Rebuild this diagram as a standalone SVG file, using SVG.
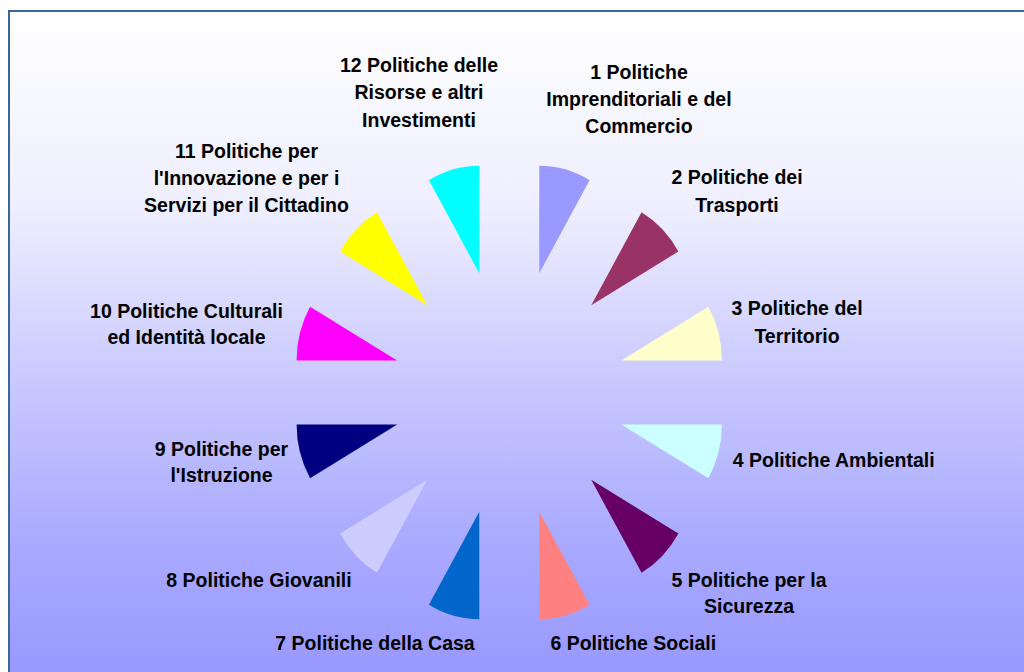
<svg xmlns="http://www.w3.org/2000/svg" width="1024" height="672" viewBox="0 0 1024 672">
<defs>
<linearGradient id="bg" x1="0" y1="11" x2="0" y2="672" gradientUnits="userSpaceOnUse">
<stop offset="0" stop-color="#FFFFFF"/>
<stop offset="0.3" stop-color="#EEEEFF"/>
<stop offset="0.55" stop-color="#CACAFF"/>
<stop offset="0.8" stop-color="#AAAAFF"/>
<stop offset="1" stop-color="#9999FF"/>
</linearGradient>
<style>
.lbl{font-family:"Liberation Sans",Arial,sans-serif;font-weight:bold;font-size:19.5px;fill:#000;text-anchor:middle}
</style>
</defs>
<rect x="0" y="0" width="1024" height="672" fill="#FFFFFF"/>
<rect x="9" y="11" width="1040" height="700" fill="url(#bg)" stroke="#3B6698" stroke-width="2"/>
<g id="slices">
<g id="s1"><path d="M539.27,273.21 L539.27,165.81 A100.6,107.4 0 0 1 589.57,180.2 Z" fill="#9999FF"/></g>
<g id="s2"><path d="M591.27,305.17 L641.57,212.16 A100.6,107.4 0 0 1 678.39,251.47 Z" fill="#993366"/></g>
<g id="s3"><path d="M621.3,360.54 L708.42,306.84 A100.6,107.4 0 0 1 721.9,360.54 Z" fill="#FFFFCC"/></g>
<g id="s4"><path d="M621.3,424.46 L721.9,424.46 A100.6,107.4 0 0 1 708.42,478.16 Z" fill="#CCFFFF"/></g>
<g id="s5"><path d="M591.27,479.83 L678.39,533.53 A100.6,107.4 0 0 1 641.57,572.84 Z" fill="#660066"/></g>
<g id="s6"><path d="M539.27,511.79 L589.57,604.8 A100.6,107.4 0 0 1 539.27,619.19 Z" fill="#FF8080"/></g>
<g id="s7"><path d="M479.23,511.79 L479.23,619.19 A100.6,107.4 0 0 1 428.93,604.8 Z" fill="#0066CC"/></g>
<g id="s8"><path d="M427.23,479.83 L376.93,572.84 A100.6,107.4 0 0 1 340.11,533.53 Z" fill="#CCCCFF"/></g>
<g id="s9"><path d="M397.2,424.46 L310.08,478.16 A100.6,107.4 0 0 1 296.6,424.46 Z" fill="#000080"/></g>
<g id="s10"><path d="M397.2,360.54 L296.6,360.54 A100.6,107.4 0 0 1 310.08,306.84 Z" fill="#FF00FF"/></g>
<g id="s11"><path d="M427.23,305.17 L340.11,251.47 A100.6,107.4 0 0 1 376.93,212.16 Z" fill="#FFFF00"/></g>
<g id="s12"><path d="M479.23,273.21 L428.93,180.2 A100.6,107.4 0 0 1 479.23,165.81 Z" fill="#00FFFF"/></g>
</g>
<g id="connectors"></g>
<g id="labels">
<g id="l1"><text class="lbl" x="639" y="78.5">1 Politiche</text><text class="lbl" x="639" y="105.8">Imprenditoriali e del</text><text class="lbl" x="639" y="132.5">Commercio</text></g>
<g id="l2"><text class="lbl" x="737" y="184">2 Politiche dei</text><text class="lbl" x="737" y="211.5">Trasporti</text></g>
<g id="l3"><text class="lbl" x="797" y="315">3 Politiche del</text><text class="lbl" x="797" y="342.5">Territorio</text></g>
<g id="l4"><text class="lbl" x="833.7" y="466.7">4 Politiche Ambientali</text></g>
<g id="l5"><text class="lbl" x="749" y="586.6">5 Politiche per la</text><text class="lbl" x="749" y="613.3">Sicurezza</text></g>
<g id="l6"><text class="lbl" x="633.3" y="650">6 Politiche Sociali</text></g>
<g id="l7"><text class="lbl" x="375" y="650">7 Politiche della Casa</text></g>
<g id="l8"><text class="lbl" x="259" y="586.6">8 Politiche Giovanili</text></g>
<g id="l9"><text class="lbl" x="221.5" y="455.7">9 Politiche per</text><text class="lbl" x="221.5" y="482.3">l'Istruzione</text></g>
<g id="l10"><text class="lbl" x="186.5" y="317.5">10 Politiche Culturali</text><text class="lbl" x="186.5" y="344.3">ed Identità locale</text></g>
<g id="l11"><text class="lbl" x="246.5" y="157.5">11 Politiche per</text><text class="lbl" x="246.5" y="184.5">l'Innovazione e per i</text><text class="lbl" x="246.5" y="211.5">Servizi per il Cittadino</text></g>
<g id="l12"><text class="lbl" x="419" y="71.6">12 Politiche delle</text><text class="lbl" x="419" y="99">Risorse e altri</text><text class="lbl" x="419" y="126.6">Investimenti</text></g>
</g>
</svg>
